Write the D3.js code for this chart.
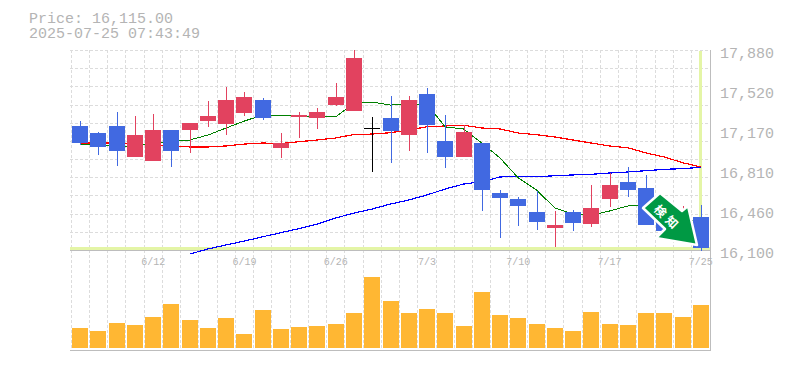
<!DOCTYPE html>
<html><head><meta charset="utf-8">
<script src="https://cdnjs.cloudflare.com/ajax/libs/d3/7.9.0/d3.min.js"></script>
<style>html,body{margin:0;padding:0;background:#fff}svg{display:block}text{font-family:"Liberation Mono",monospace;fill:#b4b4b4}rect,line{shape-rendering:crispEdges}</style>
</head><body><svg id="c" width="785" height="370"></svg>
<script>
const dates=["6/6","6/9","6/10","6/11","6/12","6/13","6/16","6/17","6/18","6/19","6/20","6/23","6/24","6/25","6/26","6/27","6/30","7/1","7/2","7/3","7/4","7/7","7/8","7/9","7/10","7/11","7/14","7/15","7/16","7/17","7/18","7/22","7/23","7/24","7/25"];
const labelledDates=["6/12","6/19","6/26","7/3","7/10","7/17","7/25"];
const open=[17204,17141,17204,16928,16892,17168,17168,17248,17221,17319,17435,17008,17284,17275,17391,17337,17183,17275,17124,17488,17070,16928,17052,16607,16554,16438,16296,16438,16331,16554,16705,16652,16385,16296,16394];
const high=[17248,17150,17328,17293,17310,17168,17230,17426,17551,17506,17453,17141,17328,17364,17586,17880,17284,17471,17471,17542,17302,17213,17052,16634,16572,16625,16447,16456,16678,16785,16839,16768,16500,16492,16500];
const low=[17035,16945,16848,16928,16892,16839,16963,17195,17124,17293,17257,16919,17097,17177,17382,17337,16794,16874,16981,16963,16830,16928,16447,16207,16314,16278,16127,16269,16305,16483,16572,16322,16269,16233,16091];
const close=[17052,17017,16981,17124,17168,16981,17230,17293,17435,17462,17275,17052,17302,17328,17462,17809,17183,17159,17435,17213,16928,17150,16634,16563,16492,16349,16322,16340,16474,16678,16634,16322,16269,16385,16115];
const maShort=[17043,17039,17017,17026,17052,17066,17079,17123,17186,17248,17301,17297,17293,17284,17284,17408,17417,17390,17399,17399,17195,17177,17052,16919,16741,16634,16474,16420,16411,16447,16492,16492,16438,16385,16349];
const maMid=[17052,17052,17052,17043,17035,17026,17017,17017,17026,17043,17052,17048,17064,17079,17097,17128,17132,17144,17168,17197,17204,17210,17186,17177,17141,17126,17106,17079,17052,17026,17010,16963,16928,16877,16839];
const maLong=[null,null,null,null,null,null,16064,16109,16145,16180,16218,16254,16291,16331,16385,16429,16465,16509,16545,16590,16643,16687,16708,16750,16756,16752,16761,16768,16774,16785,16794,16806,16818,16824,16836];
const volume=[20,17,25,23,31,44,28,20,30,14,38,19,21,22,24,35,71,47,35,39,35,22,56,33,30,24,20,17,36,24,23,35,35,31,43];
const priceTicks=[17880,17520,17170,16810,16460,16100];
const priceLabel="Price: 16,115.00";
const stampLabel="2025-07-25 07:43:49";

const svg=d3.select("#c");
const x=d3.scaleBand().domain(dates).range([71,710]).paddingInner(0);
const y=d3.scaleLinear().domain([16100,17880]).range([250,50]);
const yTick=d3.scalePoint().domain(priceTicks).range([53,253]);
const yVol=d3.scaleLinear().domain([0,100]).range([348,248]);
const cx=d=>x(d)+x.bandwidth()/2;
const UP="#e2425f",DOWN="#4169e1";

// grid
const grid=svg.append("g").attr("stroke","#dcdcdc").attr("stroke-dasharray","3,2").attr("fill","none");
dates.forEach(d=>{const X=Math.round(x(d)-0.5)+0.5;grid.append("line").attr("x1",X).attr("x2",X).attr("y1",50).attr("y2",350)});
d3.range(0,11).forEach(k=>{const Y=Math.round(y(17880-k*1780/11))+0.5;grid.append("line").attr("x1",70).attr("x2",709).attr("y1",Y).attr("y2",Y)});

// highlight of the current price and date
const hl="#e4f5a6";
svg.append("rect").attr("x",70).attr("y",247).attr("width",640).attr("height",3).attr("fill",hl);
svg.append("rect").attr("x",Math.round(cx("7/25"))-2).attr("y",51).attr("width",3).attr("height",199).attr("fill",hl);

// frame
const frame=svg.append("g").attr("stroke","#bdbdbd").attr("fill","none");
[[70,250.5,710,250.5],[70,350.5,710,350.5],[710.5,50,710.5,351]].forEach(l=>frame.append("line").attr("x1",l[0]).attr("y1",l[1]).attr("x2",l[2]).attr("y2",l[3]));

// moving averages
const line=d3.line().defined(v=>v!==null).x((v,i)=>cx(dates[i])).y(v=>y(v));
[[maMid,"#ff0000",1.2],[maLong,"#0000ff",1.2],[maShort,"#008000",1]].forEach(s=>svg.append("path").attr("d",line(s[0])).attr("fill","none").attr("stroke",s[1]).attr("stroke-width",s[2]).attr("shape-rendering","crispEdges"));

// candles
const color=i=>close[i]>open[i]?UP:close[i]<open[i]?DOWN:"#000";
const g=svg.append("g");
dates.forEach((d,i)=>{
  const X=Math.round(cx(d));
  g.append("rect").attr("x",X).attr("width",1).attr("y",y(high[i])).attr("height",y(low[i])-y(high[i])).attr("fill",color(i));
  const top=y(Math.max(open[i],close[i])),bot=y(Math.min(open[i],close[i]));
  g.append("rect").attr("x",X-8).attr("width",16).attr("y",top).attr("height",Math.max(bot-top,1)).attr("fill",color(i));
});

// volume
svg.append("g").selectAll("rect").data(volume).join("rect")
 .attr("x",(v,i)=>Math.round(cx(dates[i]))-8).attr("width",16)
 .attr("y",v=>yVol(v)).attr("height",v=>yVol(0)-yVol(v)).attr("fill","#ffb733");

// text
svg.append("text").attr("x",29).attr("y",23).attr("font-size",15).text(priceLabel);
svg.append("text").attr("x",29).attr("y",38).attr("font-size",15).text(stampLabel);
priceTicks.forEach(p=>svg.append("text").attr("x",720).attr("y",yTick(p)+5).attr("font-size",15).text(d3.format(",")(p)));
labelledDates.forEach(d=>svg.append("text").attr("x",cx(d)).attr("y",265).attr("font-size",10).attr("text-anchor","middle").text(d));

// arrow badge
svg.append("path").attr("d","M660,193 L682,211 L688,206 L697,245 L656,238 L665,229 L643,208 Z").attr("fill","#009944").attr("stroke","#fff").attr("stroke-width",2.5).attr("stroke-linejoin","round");
const badge=svg.append("g").attr("font-size",12).attr("font-weight","bold").attr("text-anchor","middle");
[["検",660.5,211],["知",672,222]].forEach(c=>badge.append("text").attr("transform",`translate(${c[1]},${c[2]}) rotate(45)`).attr("y",4.5).style("font-family","'Noto Sans CJK JP'").style("fill","#fff").text(c[0]));
</script></body></html>
